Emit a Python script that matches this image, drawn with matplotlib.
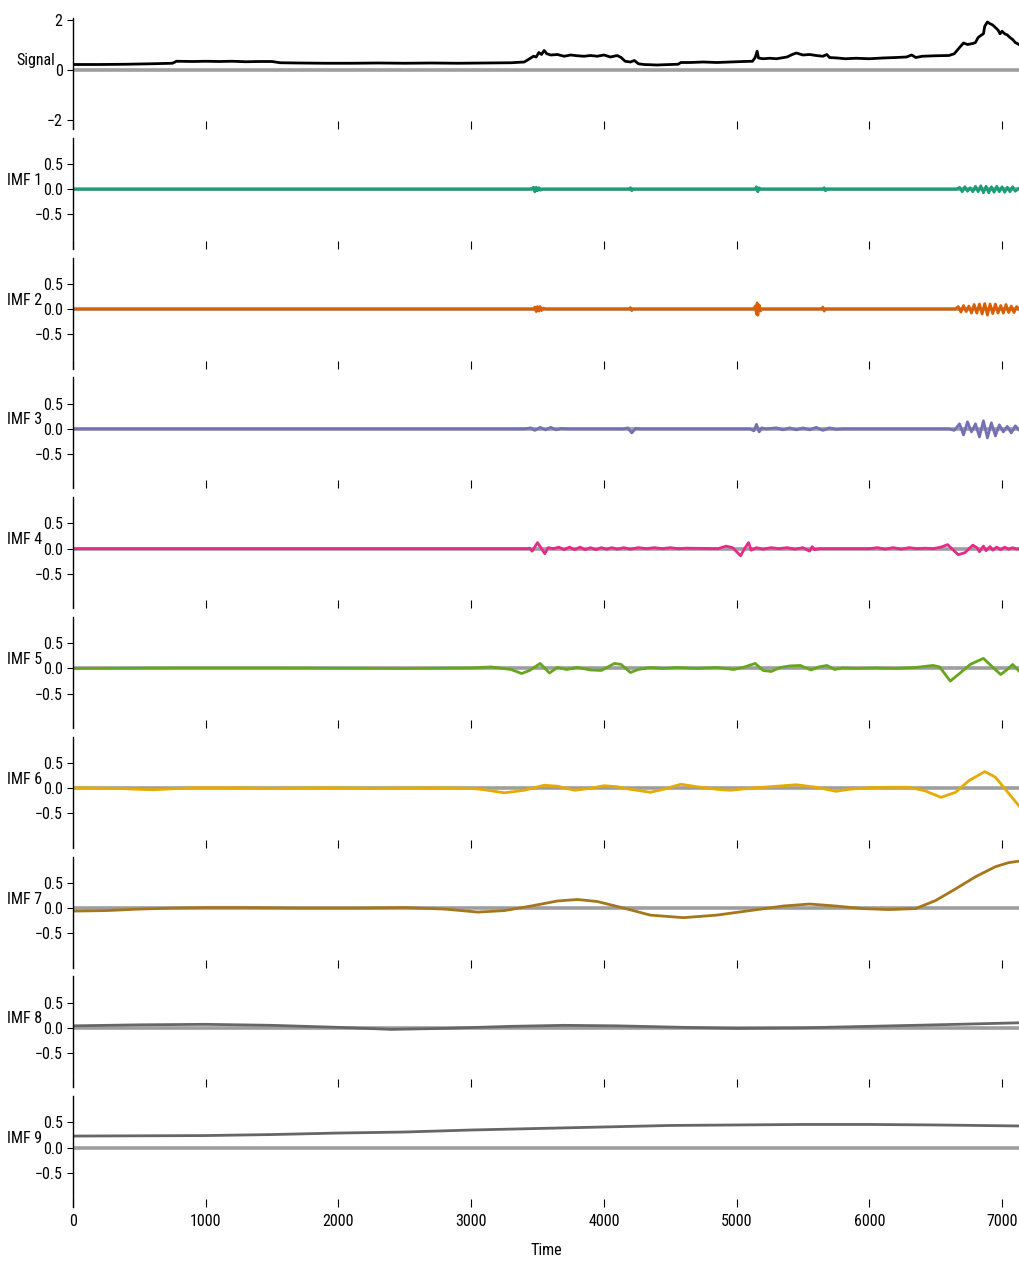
import matplotlib
matplotlib.use("Agg")
import matplotlib.pyplot as plt
import numpy as np
import logging

logging.getLogger('matplotlib.font_manager').setLevel(logging.ERROR)
plt.rcParams['font.family'] = ['Roboto Condensed', 'Liberation Sans Narrow',
                               'Liberation Sans', 'DejaVu Sans']

# ---- data: (time, value) knots for the raw signal and each IMF ----
T_END = 7128

SIGNAL = [(0, 0.22), (200, 0.22), (400, 0.23), (600, 0.25), (750, 0.27), (780, 0.35),
          (900, 0.34), (1000, 0.35), (1100, 0.34), (1200, 0.35), (1300, 0.33), (1400, 0.34),
          (1500, 0.34), (1560, 0.29), (1700, 0.28), (1900, 0.27), (2100, 0.27), (2300, 0.28),
          (2500, 0.27), (2700, 0.28), (2900, 0.27), (3100, 0.28), (3300, 0.29), (3400, 0.32),
          (3440, 0.45), (3470, 0.55), (3490, 0.52), (3510, 0.70), (3530, 0.62), (3550, 0.78),
          (3570, 0.65), (3600, 0.60), (3650, 0.62), (3700, 0.55), (3750, 0.60), (3800, 0.57),
          (3850, 0.55), (3900, 0.58), (3950, 0.55), (4000, 0.60), (4050, 0.52), (4100, 0.58),
          (4130, 0.50), (4160, 0.35), (4200, 0.32), (4230, 0.38), (4260, 0.25), (4300, 0.22),
          (4400, 0.20), (4500, 0.22), (4560, 0.23), (4580, 0.30), (4650, 0.30), (4750, 0.32),
          (4850, 0.30), (4950, 0.32), (5050, 0.34), (5120, 0.35), (5140, 0.50), (5155, 0.75),
          (5165, 0.48), (5200, 0.45), (5250, 0.47), (5300, 0.45), (5380, 0.52), (5420, 0.62),
          (5450, 0.68), (5500, 0.60), (5550, 0.62), (5600, 0.58), (5650, 0.55), (5680, 0.62),
          (5700, 0.50), (5760, 0.48), (5820, 0.45), (5900, 0.47), (6000, 0.45), (6100, 0.48),
          (6200, 0.50), (6280, 0.52), (6320, 0.60), (6350, 0.50), (6400, 0.55), (6500, 0.57),
          (6600, 0.58), (6640, 0.65), (6680, 0.90), (6710, 1.08), (6740, 1.02), (6780, 1.06),
          (6800, 1.10), (6820, 1.30), (6840, 1.38), (6860, 1.45), (6870, 1.75), (6890, 1.92),
          (6910, 1.85), (6930, 1.80), (6950, 1.70), (6970, 1.60), (6985, 1.45), (7000, 1.55),
          (7020, 1.45), (7040, 1.40), (7060, 1.30), (7080, 1.22), (7100, 1.10), (7128, 1.02)]

IMF1 = [(0, 0), (3450, 0), (3470, 0.04), (3480, -0.05), (3490, 0.04), (3500, -0.03),
        (3510, 0.03), (3520, -0.02), (3540, 0), (4190, 0), (4200, 0.03), (4210, -0.03),
        (4220, 0), (5140, 0), (5150, 0.05), (5160, -0.05), (5170, 0.03), (5180, 0),
        (5650, 0), (5660, 0.03), (5670, -0.03), (5680, 0), (6660, 0), (6680, 0.04),
        (6700, -0.05), (6720, 0.05), (6740, -0.04), (6760, 0.03), (6780, -0.05), (6800, 0.06),
        (6820, -0.05), (6840, 0.07), (6860, -0.07), (6880, 0.06), (6900, -0.07), (6920, 0.05),
        (6940, -0.06), (6960, 0.06), (6980, -0.05), (7000, 0.05), (7020, -0.06), (7040, 0.04),
        (7060, -0.05), (7080, 0.05), (7100, -0.04), (7128, 0.02)]

IMF2 = [(0, 0), (3470, 0), (3480, 0.04), (3490, -0.05), (3500, 0.05), (3510, -0.04),
        (3520, 0.05), (3530, -0.03), (3545, 0.02), (3560, 0), (4190, 0), (4200, 0.03),
        (4210, -0.03), (4220, 0), (5130, 0), (5140, 0.06), (5150, -0.10), (5155, 0.12),
        (5160, -0.12), (5170, 0.08), (5180, -0.04), (5190, 0), (5640, 0), (5650, 0.04),
        (5660, -0.04), (5670, 0), (6650, 0), (6670, 0.05), (6690, -0.06), (6710, 0.07),
        (6730, -0.05), (6750, 0.06), (6770, -0.08), (6790, 0.09), (6810, -0.08), (6830, 0.10),
        (6850, -0.10), (6870, 0.11), (6890, -0.12), (6910, 0.10), (6930, -0.09), (6950, 0.10),
        (6970, -0.08), (6990, 0.07), (7010, -0.08), (7030, 0.09), (7050, -0.07), (7070, 0.06),
        (7090, -0.07), (7110, 0.05), (7128, 0)]

IMF3 = [(0, 0), (3400, 0), (3450, 0.02), (3480, -0.03), (3520, 0.03), (3560, -0.02),
        (3600, 0.03), (3640, -0.02), (3680, 0.01), (3720, 0), (4150, 0), (4180, 0.02),
        (4210, -0.08), (4240, 0.01), (4270, 0), (5100, 0), (5130, -0.04), (5150, 0.09),
        (5170, -0.06), (5190, 0.02), (5220, 0), (5300, 0.02), (5350, -0.02), (5400, 0.02),
        (5450, -0.02), (5500, 0.02), (5550, -0.02), (5600, 0.03), (5650, -0.03), (5700, 0.02),
        (5750, -0.01), (5800, 0), (6600, 0), (6640, -0.03), (6680, 0.10), (6710, -0.12),
        (6740, 0.14), (6770, -0.06), (6800, 0.10), (6830, -0.16), (6860, 0.16), (6890, -0.18),
        (6920, 0.12), (6950, -0.14), (6980, 0.08), (7010, -0.06), (7040, 0.05), (7070, -0.08),
        (7100, 0.06), (7128, -0.02)]

IMF4 = [(0, 0), (3420, 0), (3440, 0.01), (3460, -0.05), (3500, 0.12), (3555, -0.10),
        (3580, 0.02), (3620, 0), (3660, 0.03), (3700, -0.02), (3740, 0.03), (3780, -0.02),
        (3820, 0.03), (3860, -0.02), (3900, 0.02), (3940, -0.02), (3980, 0.02), (4020, -0.01),
        (4060, 0.02), (4100, -0.01), (4150, 0.02), (4200, -0.01), (4260, 0.02), (4320, 0),
        (4380, 0.02), (4440, 0), (4500, 0.02), (4560, 0), (4620, 0.01), (4860, 0),
        (4920, 0.05), (4970, 0.02), (5030, -0.14), (5060, 0), (5090, 0.12), (5110, -0.03),
        (5150, 0.02), (5200, -0.01), (5260, 0.02), (5320, 0), (5380, 0.02), (5440, -0.01),
        (5500, 0.02), (5550, -0.05), (5570, 0.04), (5590, -0.02), (5620, 0), (6000, 0),
        (6060, 0.02), (6120, -0.01), (6180, 0.02), (6240, -0.01), (6300, 0.02), (6360, 0),
        (6420, 0.01), (6480, 0), (6540, 0.03), (6590, 0.08), (6630, -0.02), (6670, -0.12),
        (6720, -0.08), (6780, 0.07), (6810, 0.02), (6830, -0.06), (6860, 0.05), (6880, -0.04),
        (6910, 0.04), (6930, -0.03), (6960, 0.03), (6990, -0.02), (7020, 0.03), (7050, -0.01),
        (7080, 0.02), (7110, -0.01), (7128, 0)]

IMF5 = [(0, 0), (800, 0.01), (1500, 0.01), (2500, 0), (3000, 0.01), (3150, 0.03),
        (3300, -0.02), (3380, -0.10), (3440, -0.04), (3520, 0.10), (3590, -0.09), (3650, 0.02),
        (3720, -0.02), (3800, 0.02), (3900, -0.03), (3980, -0.04), (4080, 0.10), (4130, 0.08),
        (4200, -0.08), (4260, -0.02), (4350, 0.02), (4450, 0), (4550, 0.02), (4700, 0),
        (4850, 0.02), (4980, -0.02), (5060, 0.03), (5140, 0.10), (5200, -0.04), (5260, -0.06),
        (5330, 0.02), (5400, 0.05), (5480, 0.06), (5560, -0.03), (5620, 0.03), (5680, 0.06),
        (5740, -0.02), (5800, 0.01), (5900, 0), (6050, 0.01), (6200, 0), (6350, 0.02),
        (6480, 0.06), (6530, 0.03), (6610, -0.25), (6680, -0.10), (6760, 0.08), (6860, 0.20),
        (6920, 0.05), (6990, -0.12), (7040, -0.02), (7080, 0.08), (7128, -0.05)]

IMF6 = [(0, 0.01), (300, 0), (600, -0.03), (900, 0.01), (1200, 0.01), (1500, 0),
        (1900, 0.01), (2300, 0), (2700, 0.01), (3000, 0), (3100, -0.03), (3250, -0.09),
        (3400, -0.04), (3550, 0.06), (3650, 0.04), (3780, -0.04), (3900, 0.0), (4000, 0.05),
        (4100, 0.03), (4200, -0.02), (4350, -0.08), (4450, -0.02), (4580, 0.08), (4700, 0.03),
        (4850, -0.02), (4950, -0.04), (5100, 0.0), (5250, 0.03), (5450, 0.07), (5600, 0.02),
        (5750, -0.06), (5850, -0.02), (6000, 0.01), (6150, 0.02), (6300, 0.02), (6420, -0.05),
        (6540, -0.18), (6650, -0.08), (6750, 0.15), (6870, 0.33), (6950, 0.22), (7050, -0.10),
        (7128, -0.35)]

IMF7 = [(0, -0.06), (250, -0.05), (500, -0.02), (750, 0.0), (1000, 0.01), (1300, 0.01),
        (1700, 0.0), (2100, 0.0), (2500, 0.01), (2800, -0.02), (3050, -0.08), (3250, -0.05),
        (3450, 0.04), (3650, 0.14), (3800, 0.17), (3950, 0.13), (4150, 0.0), (4350, -0.14),
        (4600, -0.19), (4850, -0.14), (5100, -0.05), (5350, 0.04), (5550, 0.08), (5750, 0.04),
        (5950, -0.01), (6150, -0.03), (6350, -0.01), (6500, 0.15), (6650, 0.38), (6800, 0.62),
        (6950, 0.82), (7050, 0.90), (7128, 0.93)]

IMF8 = [(0, 0.04), (500, 0.06), (1000, 0.07), (1500, 0.05), (2000, 0.01), (2400, -0.03),
        (2800, -0.01), (3300, 0.03), (3700, 0.05), (4100, 0.04), (4600, 0.01), (5000, -0.01),
        (5500, 0.0), (6000, 0.03), (6500, 0.06), (7128, 0.10)]

IMF9 = [(0, 0.23), (1000, 0.24), (1500, 0.26), (2000, 0.29), (2500, 0.31), (3000, 0.35),
        (3500, 0.38), (4000, 0.41), (4500, 0.44), (5000, 0.45), (5500, 0.46), (6000, 0.46),
        (6500, 0.45), (7128, 0.43)]

IMFS = [IMF1, IMF2, IMF3, IMF4, IMF5, IMF6, IMF7, IMF8, IMF9]
IMF_LABELS = ['IMF 1', 'IMF 2', 'IMF 3', 'IMF 4', 'IMF 5', 'IMF 6', 'IMF 7', 'IMF 8', 'IMF 9']
IMF_COLORS = ['#1b9e77', '#d95f02', '#7570b3', '#e7298a', '#66a61e',
              '#e6ab02', '#a6761d', '#666666', '#666666']
SIGNAL_TICKS = [-2, 0, 2]
IMF_TICKS = [-0.5, 0.0, 0.5]
X_TICKS = [0, 1000, 2000, 3000, 4000, 5000, 6000, 7000]

# ---- layout ----
W, H = 1019, 1261
fig = plt.figure(figsize=(W / 100, H / 100), dpi=100)

LEFT_PX, RIGHT_PX = 73, 1019
TOP0_PX, STEP_PX, PANEL_PX = 18, 119.8, 111
ZERO_LINE = dict(color=(0.62, 0.62, 0.62), lw=2.6, zorder=1, solid_capstyle='butt')
FS = 11.5


def make_axes(i):
    top = TOP0_PX + i * STEP_PX
    return fig.add_axes([LEFT_PX / W, 1 - (top + PANEL_PX) / H,
                         (RIGHT_PX - LEFT_PX) / W, PANEL_PX / H])


def decorate(ax, last, label, label_right_px):
    for s in ('top', 'right', 'bottom'):
        ax.spines[s].set_visible(False)
    ax.spines['left'].set_linewidth(1.0)
    ax.set_xlim(0, T_END)
    ax.set_xticks(X_TICKS)
    ax.tick_params(axis='x', direction='in', length=6, width=0.8,
                   labelbottom=last, labelsize=FS, pad=5)
    ax.tick_params(axis='y', length=4, width=0.8, labelsize=FS)
    ax.set_ylabel(label, rotation=0, fontsize=FS, ha='right', va='bottom')
    ax.yaxis.set_label_coords((label_right_px - LEFT_PX) / (RIGHT_PX - LEFT_PX), 0.55)


def split(knots):
    t, v = zip(*knots)
    return np.array(t, float), np.array(v, float)


# raw signal
ax = make_axes(0)
ax.plot([0, T_END], [0, 0], **ZERO_LINE)
t, v = split(SIGNAL)
ax.plot(t, v, color='k', lw=2.0, zorder=2)
ax.set_ylim(-2.36, 2.08)
ax.set_yticks(SIGNAL_TICKS)
decorate(ax, False, 'Signal', 55)

# intrinsic mode functions
for i, (knots, lab, col) in enumerate(zip(IMFS, IMF_LABELS, IMF_COLORS)):
    ax = make_axes(i + 1)
    ax.plot([0, T_END], [0, 0], **ZERO_LINE)
    t, v = split(knots)
    ax.plot(t, v, color=col, lw=2.0, zorder=2)
    ax.set_ylim(-1.18, 1.02)
    ax.set_yticks(IMF_TICKS)
    decorate(ax, i == len(IMFS) - 1, lab, 42)
    if i == len(IMFS) - 1:
        ax.set_xlabel('Time', fontsize=FS, labelpad=10)

fig.savefig('out.png', dpi=100)
